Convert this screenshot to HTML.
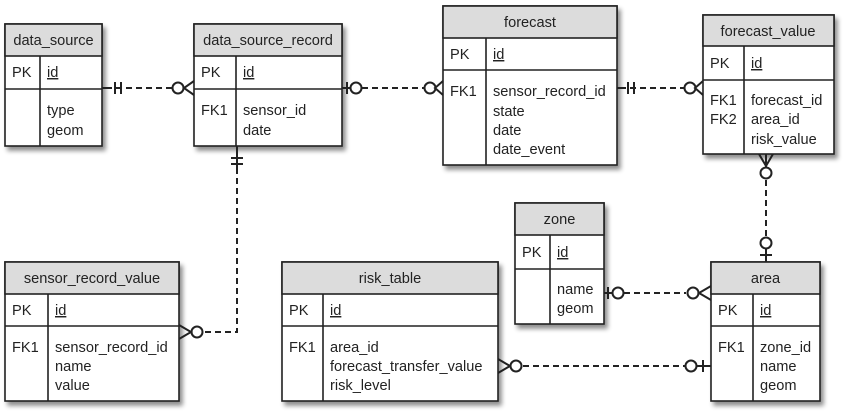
<!DOCTYPE html>
<html><head><meta charset="utf-8"><style>
html,body{margin:0;padding:0;background:#fff;}
svg{display:block;}
text{font-family:"Liberation Sans",sans-serif;font-size:14.6px;fill:#222;}
</style></head><body>
<svg width="850" height="416" viewBox="0 0 850 416" xmlns="http://www.w3.org/2000/svg">
<defs>
<filter id="sh" x="-10%" y="-10%" width="130%" height="130%">
<feGaussianBlur in="SourceAlpha" stdDeviation="2.5"/>
<feOffset dx="3" dy="4"/>
<feComponentTransfer><feFuncA type="linear" slope="0.45"/></feComponentTransfer>
<feMerge><feMergeNode/><feMergeNode in="SourceGraphic"/></feMerge>
</filter>
</defs>
<g stroke="#222" stroke-width="1.6">
<rect x="5" y="24" width="97" height="122" fill="#fff" filter="url(#sh)"/>
<rect x="5" y="24" width="97" height="32" fill="#dcdcdc"/>
<line x1="5" y1="89" x2="102" y2="89"/><line x1="40" y1="56" x2="40" y2="146"/>
<rect x="194" y="24" width="148" height="122" fill="#fff" filter="url(#sh)"/>
<rect x="194" y="24" width="148" height="32" fill="#dcdcdc"/>
<line x1="194" y1="89" x2="342" y2="89"/><line x1="236" y1="56" x2="236" y2="146"/>
<rect x="443" y="6" width="174" height="159" fill="#fff" filter="url(#sh)"/>
<rect x="443" y="6" width="174" height="32" fill="#dcdcdc"/>
<line x1="443" y1="70" x2="617" y2="70"/><line x1="486" y1="38" x2="486" y2="165"/>
<rect x="703" y="15" width="131" height="139" fill="#fff" filter="url(#sh)"/>
<rect x="703" y="15" width="131" height="31" fill="#dcdcdc"/>
<line x1="703" y1="80" x2="834" y2="80"/><line x1="744" y1="46" x2="744" y2="154"/>
<rect x="515" y="203" width="89" height="121" fill="#fff" filter="url(#sh)"/>
<rect x="515" y="203" width="89" height="32" fill="#dcdcdc"/>
<line x1="515" y1="269" x2="604" y2="269"/><line x1="550" y1="235" x2="550" y2="324"/>
<rect x="711" y="262" width="109" height="139" fill="#fff" filter="url(#sh)"/>
<rect x="711" y="262" width="109" height="32" fill="#dcdcdc"/>
<line x1="711" y1="326" x2="820" y2="326"/><line x1="753" y1="294" x2="753" y2="401"/>
<rect x="5" y="262" width="174" height="139" fill="#fff" filter="url(#sh)"/>
<rect x="5" y="262" width="174" height="32" fill="#dcdcdc"/>
<line x1="5" y1="326" x2="179" y2="326"/><line x1="48" y1="294" x2="48" y2="401"/>
<rect x="282" y="262" width="216" height="139" fill="#fff" filter="url(#sh)"/>
<rect x="282" y="262" width="216" height="32" fill="#dcdcdc"/>
<line x1="282" y1="326" x2="498" y2="326"/><line x1="323" y1="294" x2="323" y2="401"/>
</g>

<g stroke="#222" stroke-width="2" fill="none">
<g stroke-dasharray="6,4">
<line x1="106" y1="88" x2="172" y2="88"/>
<line x1="362" y1="88" x2="424" y2="88"/>
<line x1="620" y1="88" x2="684" y2="88"/>
<polyline points="237,168 237,332 203,332"/>
<line x1="766" y1="180" x2="766" y2="236"/>
<line x1="624" y1="293" x2="686" y2="293"/>
<line x1="523" y1="366" x2="685" y2="366"/>
</g>
<line x1="102" y1="88" x2="106" y2="88"/>
<line x1="115" y1="82" x2="115" y2="94"/><line x1="121" y1="82" x2="121" y2="94"/>
<circle cx="178" cy="88" r="5.5" fill="#fff"/>
<polyline points="194,81 184,88 194,95"/>
<line x1="342" y1="88" x2="350" y2="88"/>
<line x1="347" y1="82" x2="347" y2="94"/>
<circle cx="356" cy="88" r="5.5" fill="#fff"/>
<circle cx="430" cy="88" r="5.5" fill="#fff"/>
<polyline points="443,81 435,88 443,95"/>
<line x1="617" y1="88" x2="622" y2="88"/>
<line x1="628" y1="82" x2="628" y2="94"/><line x1="634" y1="82" x2="634" y2="94"/>
<circle cx="690" cy="88" r="5.5" fill="#fff"/>
<polyline points="703,81 695,88 703,95"/>
<line x1="237" y1="146" x2="237" y2="168"/>
<line x1="231" y1="158" x2="243" y2="158"/><line x1="231" y1="164" x2="243" y2="164"/>
<circle cx="197" cy="332" r="5.5" fill="#fff"/>
<polyline points="179,325 191,332 179,339"/>
<polyline points="759,154 766,166 773,154"/>
<line x1="766" y1="154" x2="766" y2="167"/>
<circle cx="766" cy="173" r="5.5" fill="#fff"/>
<circle cx="766" cy="243" r="5.5" fill="#fff"/>
<line x1="766" y1="249" x2="766" y2="262"/>
<line x1="760" y1="255" x2="772" y2="255"/>
<line x1="604" y1="293" x2="612" y2="293"/>
<line x1="608" y1="287" x2="608" y2="299"/>
<circle cx="618" cy="293" r="5.5" fill="#fff"/>
<circle cx="693" cy="293" r="5.5" fill="#fff"/>
<polyline points="711,286 699,293 711,300"/>
<polyline points="498,359 510,366 498,373"/>
<circle cx="516" cy="366" r="5.5" fill="#fff"/>
<circle cx="691" cy="366" r="5.5" fill="#fff"/>
<line x1="697" y1="366" x2="711" y2="366"/>
<line x1="703" y1="360" x2="703" y2="372"/>
</g>

<g>
<text x="53.5" y="45" text-anchor="middle">data_source</text>
<text x="12" y="77">PK</text><text x="47" y="77" text-decoration="underline">id</text>
<text x="47" y="115">type</text><text x="47" y="135">geom</text>

<text x="268" y="45" text-anchor="middle">data_source_record</text>
<text x="201" y="77">PK</text><text x="243" y="77" text-decoration="underline">id</text>
<text x="201" y="115">FK1</text><text x="243" y="115">sensor_id</text><text x="243" y="135">date</text>

<text x="530" y="27" text-anchor="middle">forecast</text>
<text x="450" y="59">PK</text><text x="493" y="59" text-decoration="underline">id</text>
<text x="450" y="96">FK1</text><text x="493" y="96">sensor_record_id</text>
<text x="493" y="116">state</text><text x="493" y="135">date</text><text x="493" y="154">date_event</text>

<text x="768" y="36" text-anchor="middle">forecast_value</text>
<text x="710" y="68">PK</text><text x="751" y="68" text-decoration="underline">id</text>
<text x="710" y="105">FK1</text><text x="751" y="105">forecast_id</text>
<text x="710" y="124">FK2</text><text x="751" y="124">area_id</text>
<text x="751" y="144">risk_value</text>

<text x="559.5" y="224" text-anchor="middle">zone</text>
<text x="522" y="257">PK</text><text x="557" y="257" text-decoration="underline">id</text>
<text x="557" y="294">name</text><text x="557" y="313">geom</text>

<text x="765.5" y="283" text-anchor="middle">area</text>
<text x="718" y="315">PK</text><text x="760" y="315" text-decoration="underline">id</text>
<text x="718" y="352">FK1</text><text x="760" y="352">zone_id</text>
<text x="760" y="371">name</text><text x="760" y="390">geom</text>

<text x="92" y="283" text-anchor="middle">sensor_record_value</text>
<text x="12" y="315">PK</text><text x="55" y="315" text-decoration="underline">id</text>
<text x="12" y="352">FK1</text><text x="55" y="352">sensor_record_id</text>
<text x="55" y="371">name</text><text x="55" y="390">value</text>

<text x="390" y="283" text-anchor="middle">risk_table</text>
<text x="289" y="315">PK</text><text x="330" y="315" text-decoration="underline">id</text>
<text x="289" y="352">FK1</text><text x="330" y="352">area_id</text>
<text x="330" y="371">forecast_transfer_value</text><text x="330" y="390">risk_level</text>
</g>
</svg>
</body></html>
